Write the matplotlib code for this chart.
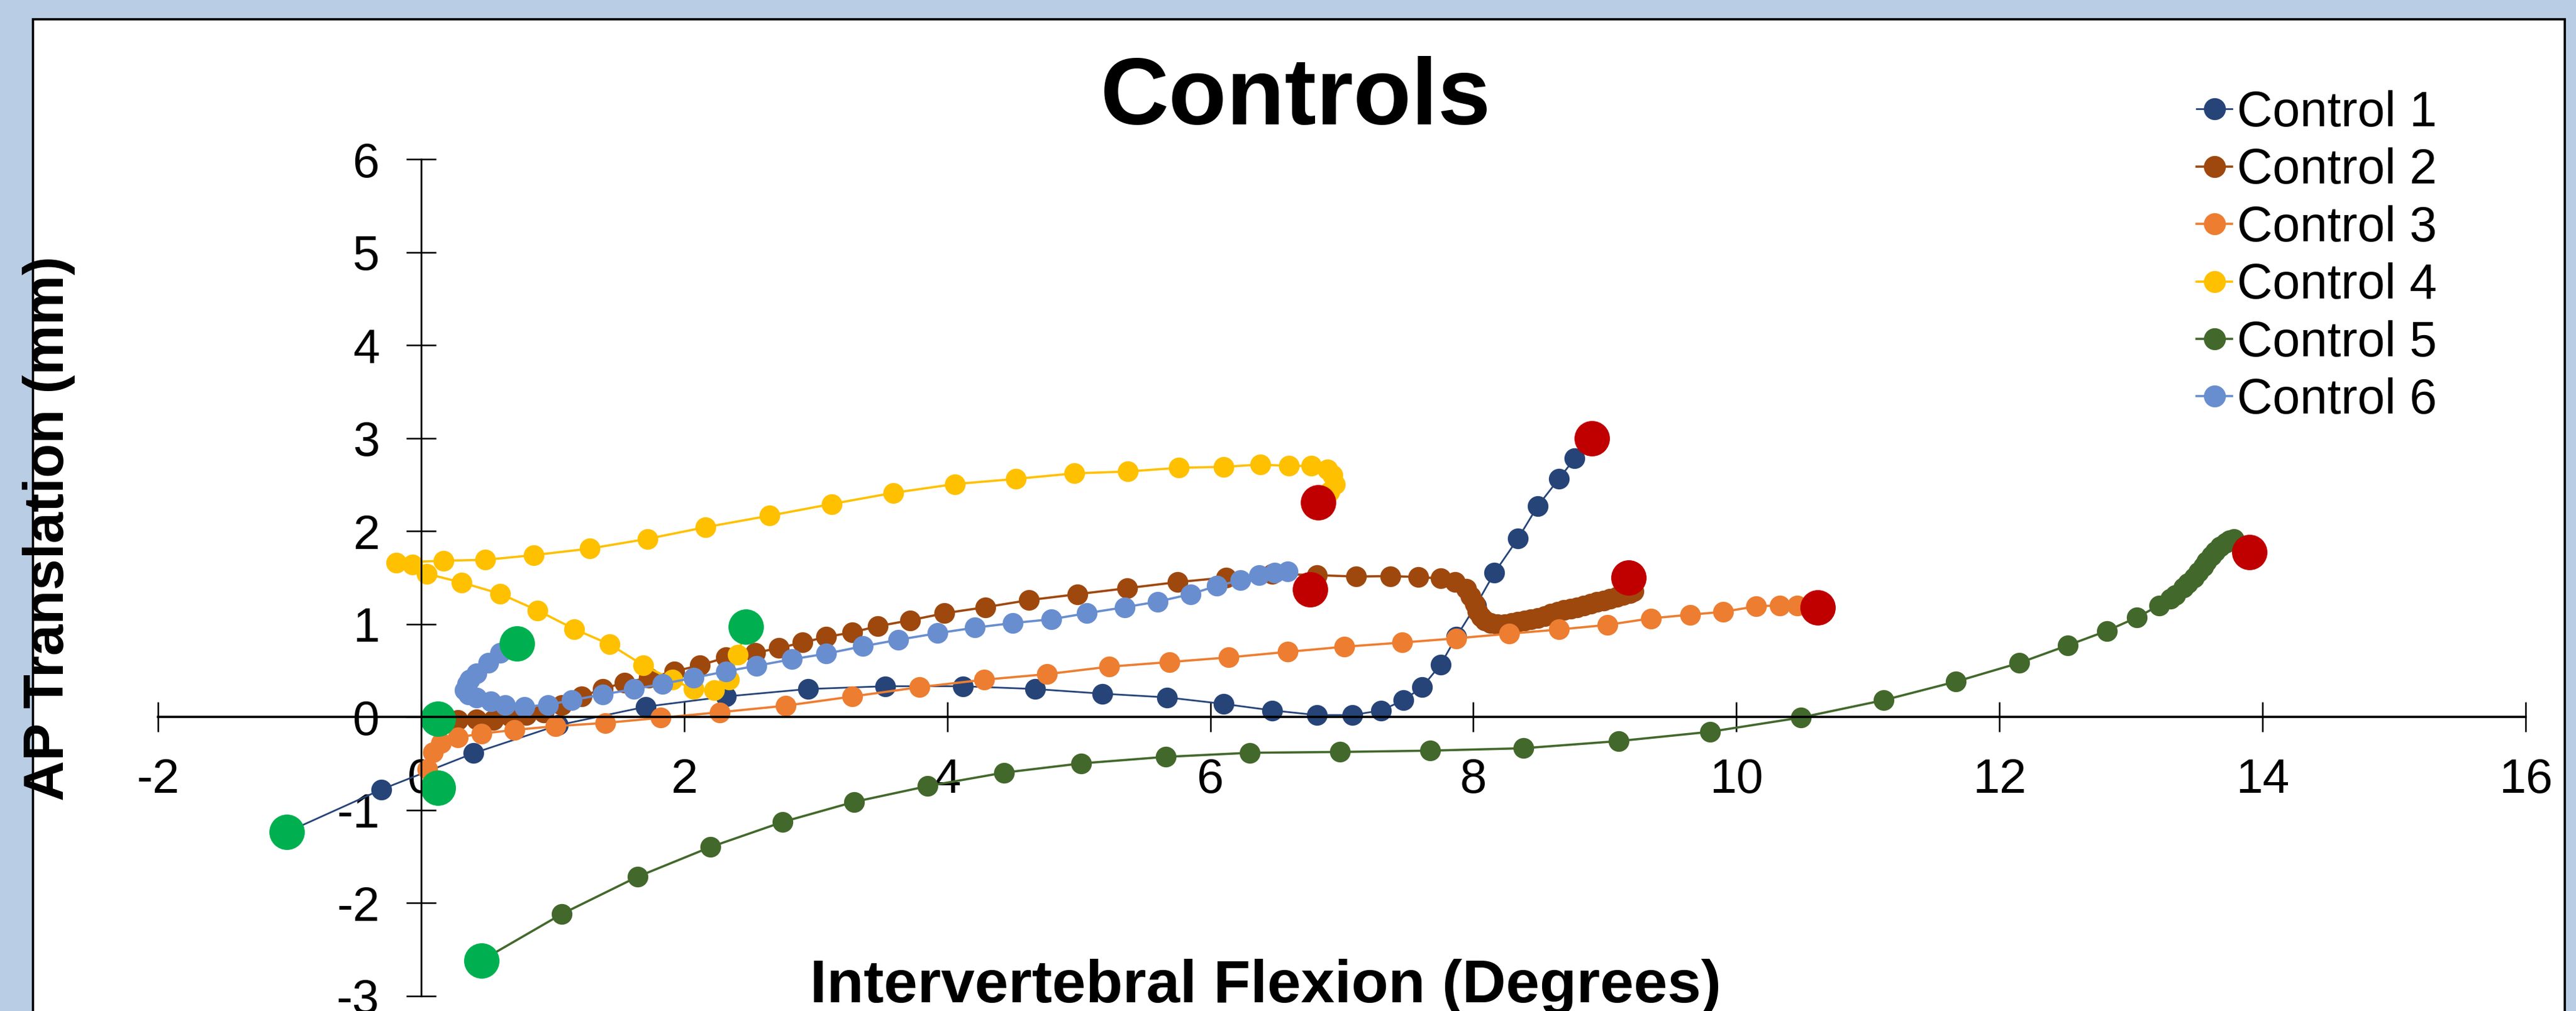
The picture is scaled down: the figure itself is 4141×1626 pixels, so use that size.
import matplotlib
matplotlib.use('Agg')
import matplotlib.pyplot as plt
from matplotlib.patches import Rectangle

plt.rcParams['font.family'] = ['Liberation Sans', 'DejaVu Sans']
plt.rcParams['axes.unicode_minus'] = False

W, H = 4141, 1626

# Control series (x = intervertebral flexion in degrees, y = AP translation in mm)
c1_x = [-1.02, -0.30, 0.40, 1.04, 1.71, 2.32, 2.94, 3.53, 4.12, 4.67, 5.18, 5.67, 6.10, 6.47,
        6.81, 7.08, 7.30, 7.47, 7.61, 7.75, 7.87, 8.02, 8.16, 8.34, 8.49, 8.65, 8.77, 8.90]
c1_y = [-1.24, -0.78, -0.39, -0.09, 0.11, 0.22, 0.30, 0.33, 0.33, 0.30, 0.25, 0.21, 0.14, 0.07,
        0.02, 0.02, 0.07, 0.18, 0.32, 0.56, 0.86, 1.20, 1.55, 1.92, 2.27, 2.56, 2.78, 3.00]

c2_x = [0.13, 0.28, 0.42, 0.55, 0.68, 0.80, 0.93, 1.07, 1.22, 1.38, 1.545, 1.73, 1.925, 2.12,
        2.32, 2.54, 2.72, 2.90, 3.08, 3.28, 3.47, 3.72, 3.98, 4.29, 4.62, 4.99, 5.37, 5.75,
        6.12, 6.47, 6.81, 7.11, 7.37, 7.58, 7.75, 7.86, 7.945, 7.98, 8.01, 8.03, 8.06, 8.09,
        8.13, 8.18, 8.24, 8.29, 8.34, 8.39, 8.44, 8.49, 8.54, 8.59, 8.64, 8.69, 8.74, 8.79,
        8.84, 8.89, 8.94, 8.99, 9.04, 9.09, 9.14, 9.19, 9.22]
c2_y = [-0.02, -0.035, -0.025, -0.035, 0.0, 0.02, 0.05, 0.13, 0.22, 0.30, 0.37, 0.42, 0.49, 0.555,
        0.64, 0.69, 0.74, 0.80, 0.86, 0.91, 0.975, 1.04, 1.115, 1.18, 1.256, 1.32, 1.385, 1.45,
        1.50, 1.54, 1.525, 1.51, 1.515, 1.505, 1.49, 1.45, 1.38, 1.30, 1.22, 1.14, 1.08, 1.04,
        1.01, 1.00, 1.00, 1.01, 1.025, 1.04, 1.05, 1.065, 1.085, 1.11, 1.13, 1.15, 1.165, 1.18,
        1.20, 1.215, 1.235, 1.25, 1.27, 1.29, 1.31, 1.33, 1.35]

c3_x = [0.13, 0.05, 0.09, 0.15, 0.28, 0.46, 0.71, 1.02, 1.40, 1.82, 2.27, 2.77, 3.28, 3.79,
        4.28, 4.76, 5.23, 5.69, 6.14, 6.59, 7.02, 7.46, 7.87, 8.27, 8.65, 9.02, 9.35, 9.65,
        9.90, 10.15, 10.33, 10.46, 10.62]
c3_y = [-0.76, -0.56, -0.38, -0.28, -0.22, -0.18, -0.14, -0.10, -0.065, -0.01, 0.05, 0.12, 0.22, 0.32,
        0.40, 0.46, 0.54, 0.59, 0.64, 0.70, 0.755, 0.80, 0.845, 0.895, 0.94, 0.99, 1.06, 1.10,
        1.13, 1.19, 1.20, 1.20, 1.18]

c4_x = [2.47, 2.41, 2.34, 2.23, 2.07, 1.91, 1.69, 1.435, 1.165, 0.885, 0.60, 0.306, 0.043,
        -0.066, -0.19, 0.17, 0.49, 0.855, 1.28, 1.72, 2.16, 2.65, 3.12, 3.59, 4.06, 4.52,
        4.965, 5.375, 5.76, 6.10, 6.38, 6.60, 6.77, 6.89, 6.93, 6.95, 6.905, 6.82]
c4_y = [0.97, 0.67, 0.40, 0.29, 0.30, 0.40, 0.555, 0.78, 0.945, 1.146, 1.325, 1.447, 1.54,
        1.64, 1.66, 1.68, 1.69, 1.74, 1.81, 1.915, 2.04, 2.165, 2.29, 2.41, 2.505, 2.56,
        2.62, 2.64, 2.68, 2.69, 2.715, 2.70, 2.70, 2.66, 2.60, 2.50, 2.42, 2.305]

c5_x = [0.46, 1.07, 1.645, 2.20, 2.75, 3.29, 3.85, 4.43, 5.02, 5.66, 6.30, 6.985, 7.67, 8.38,
        9.105, 9.80, 10.49, 11.12, 11.67, 12.15, 12.52, 12.815, 13.045, 13.215, 13.30, 13.335,
        13.40, 13.43, 13.48, 13.51, 13.55, 13.575, 13.61, 13.64, 13.68, 13.72, 13.75, 13.78]
c5_y = [-2.62, -2.12, -1.72, -1.40, -1.13, -0.915, -0.745, -0.60, -0.50, -0.43, -0.386, -0.377, -0.363, -0.337,
        -0.26, -0.16, -0.007, 0.18, 0.38, 0.58, 0.77, 0.925, 1.07, 1.20, 1.27, 1.31,
        1.39, 1.435, 1.50, 1.56, 1.62, 1.67, 1.73, 1.78, 1.83, 1.87, 1.90, 1.915]

c6_x = [0.73, 0.60, 0.51, 0.42, 0.37, 0.35, 0.33, 0.36, 0.42, 0.53, 0.64, 0.785, 0.965, 1.145,
        1.38, 1.62, 1.835, 2.07, 2.32, 2.55, 2.82, 3.08, 3.36, 3.63, 3.925, 4.21, 4.50, 4.79,
        5.06, 5.35, 5.60, 5.85, 6.05, 6.23, 6.37, 6.49, 6.59]
c6_y = [0.79, 0.69, 0.58, 0.47, 0.40, 0.355, 0.29, 0.24, 0.21, 0.17, 0.13, 0.11, 0.13, 0.18,
        0.24, 0.30, 0.355, 0.42, 0.49, 0.55, 0.62, 0.68, 0.76, 0.83, 0.90, 0.96, 1.01, 1.05,
        1.115, 1.18, 1.24, 1.32, 1.41, 1.47, 1.525, 1.55, 1.565]

start_x = [-1.02, 0.13, 0.13, 2.47, 0.46, 0.73]
start_y = [-1.24, -0.02, -0.76, 0.97, -2.62, 0.79]
end_x = [8.90, 9.18, 10.62, 6.82, 13.90, 6.76]
end_y = [3.00, 1.50, 1.18, 2.305, 1.77, 1.37]

series = [
    ('Control 1', c1_x, c1_y, '#264478', 2.0),
    ('Control 2', c2_x, c2_y, '#9E480E', 2.6),
    ('Control 3', c3_x, c3_y, '#ED7D31', 2.6),
    ('Control 4', c4_x, c4_y, '#FFC000', 2.6),
    ('Control 5', c5_x, c5_y, '#43682B', 2.6),
    ('Control 6', c6_x, c6_y, '#698ED0', 2.6),
]

fig = plt.figure(figsize=(W / 100, H / 100), dpi=100)
fig.patch.set_facecolor('#B9CDE5')

# white chart area with black border (bottom edge is cut off)
fig.patches.append(Rectangle((53 / W, -0.1), (4123 - 53) / W, 1 - 31.5 / H + 0.1,
                             transform=fig.transFigure, facecolor='white',
                             edgecolor='black', linewidth=2.6, zorder=-10))

ax = fig.add_axes([254 / W, 1 - 1601.5 / H, (4060 - 254) / W, (1601.5 - 256) / H])
ax.set_zorder(5)
ax.patch.set_visible(False)

for name, xs, ys, col, lw in series:
    ax.plot(xs, ys, color=col, lw=lw, marker='o', markersize=24,
            markeredgewidth=0, label=name, clip_on=False)

ax.plot(start_x, start_y, ls='none', marker='o', markersize=41, color='#00B050',
        markeredgewidth=0, clip_on=False)
ax.plot(end_x, end_y, ls='none', marker='o', markersize=41, color='#C00000',
        markeredgewidth=0, clip_on=False)

ax.set_xlim(-2, 16)
ax.set_ylim(-3, 6)
ax.set_xticks(range(-2, 17, 2))
ax.set_yticks(range(-3, 7))
ax.spines['left'].set_position(('data', 0))
ax.spines['bottom'].set_position(('data', 0))
ax.spines['top'].set_visible(False)
ax.spines['right'].set_visible(False)
ax.spines['left'].set_linewidth(2.0)
ax.spines['bottom'].set_linewidth(2.6)
ax.tick_params(axis='both', direction='inout', length=34, width=1.8, labelsize=56)
ax.tick_params(axis='x', pad=30)
ax.tick_params(axis='y', pad=31)

fig.text(0.503, 1 - 200 / H, 'Controls', fontsize=110, fontweight='bold',
         ha='center', va='baseline')
fig.text(2034 / W, 1 - 1612 / H, 'Intervertebral Flexion (Degrees)', fontsize=70,
         fontweight='bold', ha='center', va='baseline')
fig.text(79 / W, 1 - 850 / H, 'AP Translation (mm)', fontsize=65, fontweight='bold',
         rotation=90, ha='center', va='center')

ax.legend(loc='upper left', bbox_to_anchor=(3531 / W, 1 - 145 / H),
          bbox_transform=fig.transFigure, frameon=False, fontsize=57,
          handlelength=0.72, handletextpad=0.1, labelspacing=0.22,
          borderpad=0, borderaxespad=0, markerscale=35 / 33)

fig.savefig('out.png', dpi=100, facecolor=fig.get_facecolor())
